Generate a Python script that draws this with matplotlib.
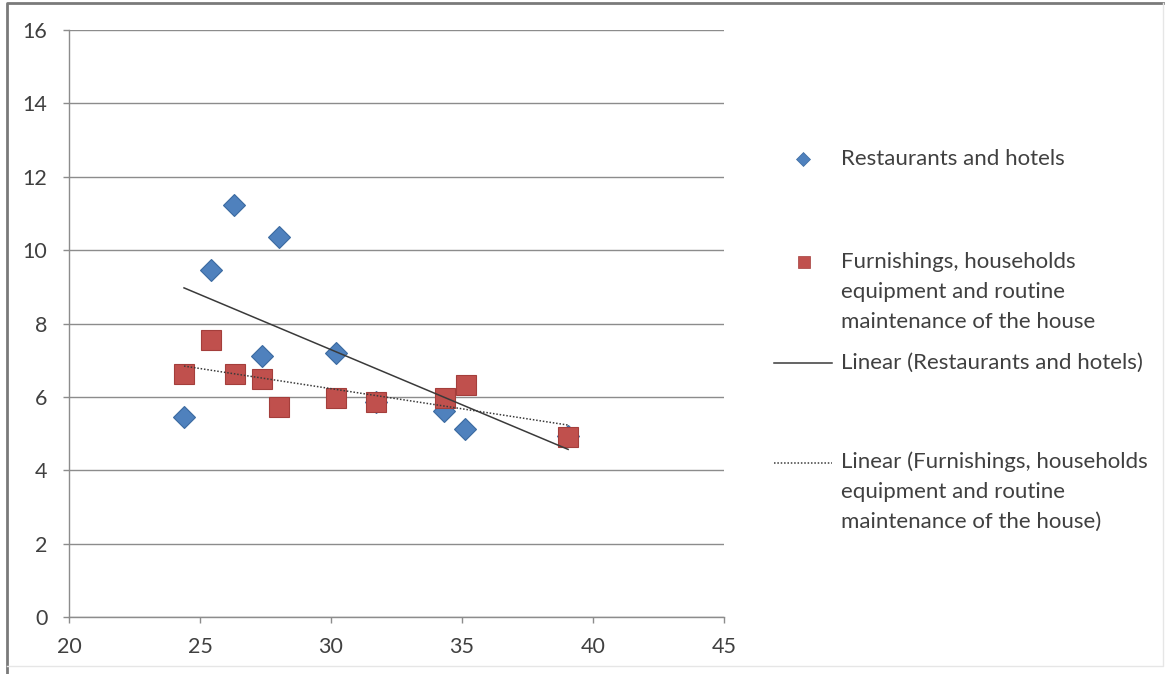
import numpy as np
import matplotlib.pyplot as plt
from matplotlib.lines import Line2D

# --------------------------------------
# Data
rest_x = [24.39, 25.42, 26.30, 27.37, 28.02, 30.19, 31.72, 34.31, 35.11, 39.05]
rest_y = [5.45, 9.46, 11.23, 7.11, 10.35, 7.19, 5.86, 5.61, 5.12, 4.92]

furn_x = [24.39, 25.42, 26.34, 27.37, 28.02, 30.19, 31.72, 34.35, 35.15, 39.05]
furn_y = [6.62, 7.55, 6.62, 6.49, 5.72, 5.97, 5.86, 5.97, 6.32, 4.90]

rest_label = 'Restaurants and hotels'
furn_label = 'Furnishings, households\nequipment and routine\nmaintenance of the house'

x_ticks = [20, 25, 30, 35, 40, 45]
y_ticks = [0, 2, 4, 6, 8, 10, 12, 14, 16]

# colours
blue = '#4f81bd'
blue_edge = '#3b6aa0'
red = '#c0504d'
red_edge = '#a43e3b'
grid_col = '#8c8c8c'
text_col = '#404040'
trend_col = '#3a3a3a'

W, H = 1165, 674
plt.rcParams['font.family'] = ['Lato', 'DejaVu Sans']


def fx(px):
    return px / W


def fy(py):
    return 1 - py / H


fig = plt.figure(figsize=(W / 100, H / 100), dpi=100)
ax = fig.add_axes([fx(69), fy(617), fx(724) - fx(69), fy(30) - fy(617)])

# trend lines (least squares), drawn over the data range
for xs, ys, ls in [(rest_x, rest_y, '-'), (furn_x, furn_y, (0, (1, 1.2)))]:
    k, b = np.polyfit(xs, ys, 1)
    xx = np.array([min(xs), max(xs)])
    ax.plot(xx, k * xx + b, color=trend_col, lw=1.1, ls=ls, zorder=4)

ax.plot(rest_x, rest_y, ls='none', marker='D', ms=10.8, mfc=blue, mec=blue_edge,
        mew=0.8, zorder=3)
ax.plot(furn_x, furn_y, ls='none', marker='s', ms=14.5, mfc=red, mec=red_edge,
        mew=0.8, zorder=3)

ax.set_xlim(20, 45)
ax.set_ylim(0, 16)
ax.set_xticks(x_ticks)
ax.set_yticks(y_ticks)
ax.yaxis.grid(True, color=grid_col, lw=1)
ax.set_axisbelow(True)
for s in ['top', 'right']:
    ax.spines[s].set_visible(False)
for s in ['left', 'bottom']:
    ax.spines[s].set_color(grid_col)
    ax.spines[s].set_linewidth(1)
ax.tick_params(axis='both', colors=grid_col, length=4.5, width=1,
               labelcolor=text_col, labelsize=15.5)
ax.tick_params(axis='y', pad=11)
ax.tick_params(axis='x', pad=10)

# legend on the right
fs = 16
ls_text = 1.62
fig.add_artist(Line2D([fx(803)], [fy(159)], marker='D', ms=7, mfc=blue,
                      mec=blue_edge, mew=0.5, transform=fig.transFigure))
fig.text(fx(841), fy(159), rest_label, fontsize=fs, color=text_col, va='center')

fig.add_artist(Line2D([fx(804)], [fy(262)], marker='s', ms=8.5, mfc=red,
                      mec=red_edge, mew=0.5, transform=fig.transFigure))
fig.text(fx(841), fy(292), furn_label, fontsize=fs, color=text_col, va='center',
         linespacing=ls_text)

fig.add_artist(Line2D([fx(774), fx(832)], [fy(363), fy(363)], color=trend_col,
                      lw=1.1, transform=fig.transFigure))
fig.text(fx(841), fy(363), 'Linear (' + rest_label + ')', fontsize=fs,
         color=text_col, va='center')

fig.add_artist(Line2D([fx(774), fx(832)], [fy(463), fy(463)], color=trend_col,
                      lw=1.1, ls=(0, (1, 1.2)), transform=fig.transFigure))
fig.text(fx(841), fy(492), 'Linear (' + furn_label + ')', fontsize=fs,
         color=text_col, va='center', linespacing=ls_text)

# chart border
fig.add_artist(Line2D([fx(7), fx(7), fx(1163)], [fy(674), fy(3), fy(3)],
                      color='#7a7a7a', lw=2, transform=fig.transFigure))
fig.add_artist(Line2D([fx(1163), fx(1163), fx(7)], [fy(3), fy(666), fy(666)],
                      color='#e6e6e6', lw=1, transform=fig.transFigure))

fig.savefig('out.png', dpi=100)
